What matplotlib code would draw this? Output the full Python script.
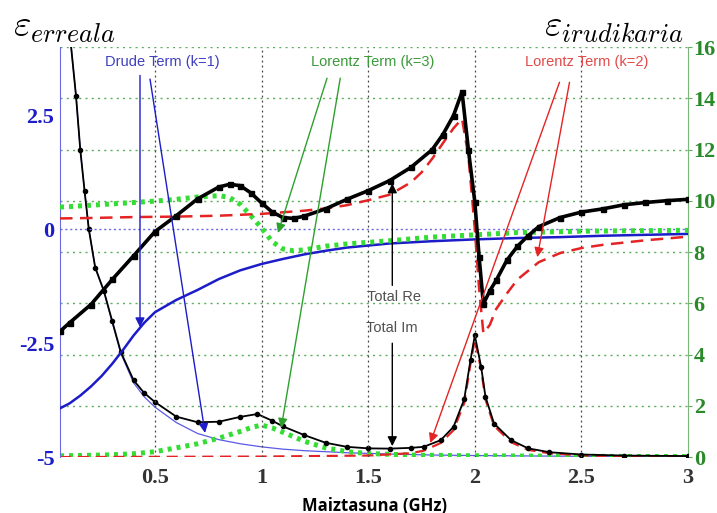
import numpy as np
import matplotlib
matplotlib.use("Agg")
from matplotlib import pyplot as plt

plt.rcParams['mathtext.fontset'] = 'cm'

# ---- real parts (left axis) ----
re_tot_x = [0.055, 0.1, 0.2, 0.3, 0.4, 0.5, 0.6, 0.7, 0.8, 0.85, 0.9, 0.95, 1.0, 1.05,
            1.1, 1.15, 1.2, 1.3, 1.4, 1.5, 1.6, 1.7, 1.8, 1.85, 1.9, 1.94, 1.97, 2.0,
            2.02, 2.04, 2.07, 2.1, 2.15, 2.2, 2.25, 2.3, 2.4, 2.5, 2.6, 2.7, 2.8, 2.9, 3.0]
re_tot_y = [-2.24, -2.05, -1.65, -1.1, -0.58, -0.05, 0.30, 0.67, 0.93, 0.99, 0.96, 0.80,
            0.58, 0.38, 0.26, 0.24, 0.29, 0.45, 0.66, 0.85, 1.07, 1.36, 1.75, 2.08, 2.50,
            3.02, 1.74, 0.6, -0.6, -1.64, -1.35, -1.12, -0.68, -0.37, -0.14, 0.06, 0.26,
            0.38, 0.45, 0.54, 0.59, 0.63, 0.66]

re_drude_x = [0.055, 0.1, 0.15, 0.2, 0.25, 0.3, 0.35, 0.4, 0.45, 0.5, 0.6, 0.7, 0.8, 0.9,
              1.0, 1.1, 1.2, 1.3, 1.4, 1.6, 1.8, 2.0, 2.2, 2.4, 2.6, 2.8, 3.0]
re_drude_y = [-3.93, -3.82, -3.65, -3.45, -3.22, -2.95, -2.65, -2.33, -2.05, -1.82, -1.55,
              -1.33, -1.09, -0.90, -0.76, -0.65, -0.55, -0.47, -0.40, -0.31, -0.26, -0.22,
              -0.19, -0.17, -0.14, -0.12, -0.10]

re_l3_x = [0.055, 0.1, 0.2, 0.3, 0.4, 0.5, 0.6, 0.7, 0.8, 0.85, 0.9, 0.95, 1.0, 1.05, 1.1,
           1.15, 1.2, 1.3, 1.4, 1.6, 1.8, 2.0, 2.2, 2.5, 3.0]
re_l3_y = [0.49, 0.50, 0.53, 0.56, 0.59, 0.62, 0.66, 0.71, 0.74, 0.70, 0.55, 0.30, 0.03,
           -0.27, -0.43, -0.47, -0.45, -0.37, -0.32, -0.25, -0.17, -0.12, -0.07, -0.04, -0.02]

re_l2_x = [0.055, 0.2, 0.4, 0.6, 0.8, 1.0, 1.2, 1.3, 1.4, 1.5, 1.6, 1.7, 1.75, 1.8, 1.85,
           1.9, 1.94, 1.97, 2.0, 2.02, 2.04, 2.07, 2.1, 2.15, 2.2, 2.3, 2.4, 2.5, 2.6, 2.8, 3.0]
re_l2_y = [0.24, 0.25, 0.27, 0.28, 0.30, 0.34, 0.41, 0.46, 0.53, 0.64, 0.76, 1.03, 1.25,
           1.55, 1.89, 2.22, 2.43, 1.6, 0.0, -1.3, -2.28, -2.1, -1.75, -1.41, -1.10, -0.72,
           -0.52, -0.41, -0.34, -0.24, -0.16]

# ---- imaginary parts (right axis) ----
im_tot_x = [0.10, 0.13, 0.15, 0.17, 0.19, 0.22, 0.26, 0.30, 0.34, 0.40, 0.45, 0.50, 0.60,
            0.70, 0.80, 0.90, 0.98, 1.05, 1.10, 1.20, 1.30, 1.40, 1.50, 1.60, 1.70, 1.76,
            1.84, 1.90, 1.95, 1.98, 2.00, 2.03, 2.05, 2.09, 2.17, 2.25, 2.35, 2.5, 2.7, 3.0]
im_tot_y = [16.6, 14.1, 12.0, 10.4, 8.9, 7.4, 6.5, 5.3, 4.1, 3.0, 2.5, 2.15, 1.58, 1.36,
            1.38, 1.57, 1.68, 1.42, 1.2, 0.86, 0.56, 0.40, 0.34, 0.33, 0.36, 0.40, 0.66,
            1.18, 2.25, 3.8, 4.75, 3.5, 2.35, 1.31, 0.66, 0.34, 0.19, 0.10, 0.06, 0.04]

im_drude_x = [0.10, 0.13, 0.15, 0.17, 0.19, 0.22, 0.26, 0.30, 0.34, 0.40, 0.45, 0.50, 0.60,
              0.70, 0.80, 0.90, 1.00, 1.10, 1.20, 1.40, 1.60, 1.80, 2.00, 2.50, 3.00]
im_drude_y = [16.6, 14.1, 12.0, 10.4, 8.9, 7.4, 6.5, 5.25, 4.05, 2.9, 2.35, 1.95, 1.35,
              0.92, 0.68, 0.52, 0.40, 0.31, 0.25, 0.17, 0.12, 0.08, 0.06, 0.03, 0.02]

im_l3_x = [0.055, 0.2, 0.3, 0.4, 0.5, 0.6, 0.7, 0.8, 0.9, 0.95, 1.0, 1.05, 1.1, 1.2, 1.3,
           1.4, 1.5, 1.7, 2.0, 2.5, 3.0]
im_l3_y = [0.05, 0.07, 0.09, 0.13, 0.21, 0.36, 0.52, 0.74, 1.0, 1.15, 1.25, 1.14, 0.97,
           0.62, 0.36, 0.21, 0.14, 0.08, 0.05, 0.03, 0.02]

im_l2_x = [0.055, 1.0, 1.5, 1.7, 1.76, 1.84, 1.90, 1.95, 1.98, 2.00, 2.03, 2.05, 2.09, 2.17,
           2.25, 2.35, 2.5, 2.7, 3.0]
im_l2_y = [0.0, 0.02, 0.06, 0.15, 0.25, 0.55, 1.05, 2.1, 3.65, 4.6, 3.4, 2.25, 1.22, 0.58,
           0.28, 0.15, 0.07, 0.03, 0.02]

x_ticks = [0.5, 1, 1.5, 2, 2.5, 3]
x_labels = ['0.5', '1', '1.5', '2', '2.5', '3']
left_ticks = [-5, -2.5, 0, 2.5]
left_labels = ['-5', '-2.5', '0', '2.5']
right_ticks = [0, 2, 4, 6, 8, 10, 12, 14, 16]

c_blue = '#1c1cc8'
c_green = '#33dd33'
c_red = '#e42424'
c_dgreen = '#2a8a2a'

fig = plt.figure(figsize=(7.17, 5.13), dpi=100)
ax = fig.add_axes([0.0837, 0.109, 0.876, 0.799])
ax2 = ax.twinx()

ax.set_xlim(0.055, 3.0)
ax.set_ylim(-5, 4)
ax2.set_ylim(0, 16)

# grids
for xv in x_ticks[:-1]:
    ax.axvline(xv, color='#444444', lw=0.9, ls=(0, (1.5, 2.5)), zorder=1)
for yv in right_ticks:
    ax2.axhline(yv, color='#5fae5f', lw=1.0, ls=(0, (1.5, 3)), zorder=1)
ax.axhline(0, color='#6a6ae6', lw=1.0, ls=(0, (1.5, 2)), zorder=1)

# imaginary parts
ax2.plot(im_drude_x, im_drude_y, color='#5a5ae6', lw=0.9, zorder=3)
ax2.plot(im_l3_x, im_l3_y, color=c_green, lw=3.6, ls=(0, (0.8, 1.0)), zorder=3)
ax2.plot(im_l2_x, im_l2_y, color=c_red, lw=1.6, ls=(0, (5, 3)), zorder=3)
ax2.plot(im_tot_x, im_tot_y, color='black', lw=1.3, marker='o', ms=3, zorder=4)

# real parts
ax.plot(re_drude_x, re_drude_y, color=c_blue, lw=1.8, zorder=3)
ax.plot(re_l3_x, re_l3_y, color=c_green, lw=3.6, ls=(0, (0.8, 1.0)), zorder=3)
ax.plot(re_l2_x, re_l2_y, color=c_red, lw=1.8, ls=(0, (5, 3)), zorder=3)
ax.plot(re_tot_x, re_tot_y, color='black', lw=2.6, marker='s', ms=3.6, zorder=4)
ax.set_zorder(ax2.get_zorder() + 1)
ax.patch.set_visible(False)

# annotations
def arrow(tip, start, color, lw=1.0):
    ax.annotate('', xy=tip, xytext=start,
                arrowprops=dict(arrowstyle='-|>', color=color, lw=lw,
                                mutation_scale=14, shrinkA=0, shrinkB=0), zorder=6)

arrow((0.430, -2.15), (0.430, 3.38), c_blue)
arrow((0.735, -4.47), (0.477, 3.30), c_blue)
arrow((1.077, -0.08), (1.307, 3.32), '#2ea02e')
arrow((1.092, -4.36), (1.369, 3.32), '#2ea02e')
arrow((1.791, -4.69), (2.397, 3.23), c_red)
arrow((2.293, -0.61), (2.444, 3.23), c_red)
arrow((1.613, 1.01), (1.613, -1.23), 'black')
arrow((1.613, -4.76), (1.613, -2.50), 'black')

tfont = dict(family='Liberation Sans', fontsize=10.5, ha='center', va='center', zorder=7)
ax.text(0.534, 3.67, 'Drude Term (k=1)', color='#3f3fc0', **tfont)
ax.text(1.519, 3.67, 'Lorentz Term (k=3)', color='#3a9a3a', **tfont)
ax.text(2.524, 3.67, 'Lorentz Term (k=2)', color='#e04a4a', **tfont)
ax.text(1.622, -1.49, 'Total Re', color='#505050', **tfont)
ax.text(1.613, -2.17, 'Total Im', color='#505050', **tfont)

# axes styling
tick_font = dict(family='Liberation Serif', weight='bold', size=16)
ax.set_xticks(x_ticks)
ax.set_xticklabels(x_labels, color='#333333', **tick_font)
ax.set_yticks(left_ticks)
ax.set_yticklabels(left_labels, color=c_blue, **tick_font)
ax2.set_yticks(right_ticks)
ax2.set_yticklabels([str(v) for v in right_ticks], color=c_dgreen, **tick_font)
ax.tick_params(axis='x', length=0, pad=8)
ax.tick_params(axis='y', length=0, pad=4)
ax2.tick_params(axis='y', length=3, color='#5fae5f', pad=1)

for a in (ax, ax2):
    a.spines['top'].set_visible(False)
    a.spines['bottom'].set_visible(False)
ax.spines['left'].set_color('#6a6ae6')
ax.spines['right'].set_visible(False)
ax2.spines['left'].set_visible(False)
ax2.spines['right'].set_color('#7ab87a')

ax.set_xlabel('Maiztasuna (GHz)', family='Open Sans', weight='bold', fontsize=12, labelpad=6)

fig.text(0.018, 0.948, r'$\varepsilon_{erreala}$', fontsize=27, ha='left', va='center')
fig.text(0.953, 0.948, r'$\varepsilon_{irudikaria}$', fontsize=27, ha='right', va='center')

fig.savefig('out.png', dpi=100)
